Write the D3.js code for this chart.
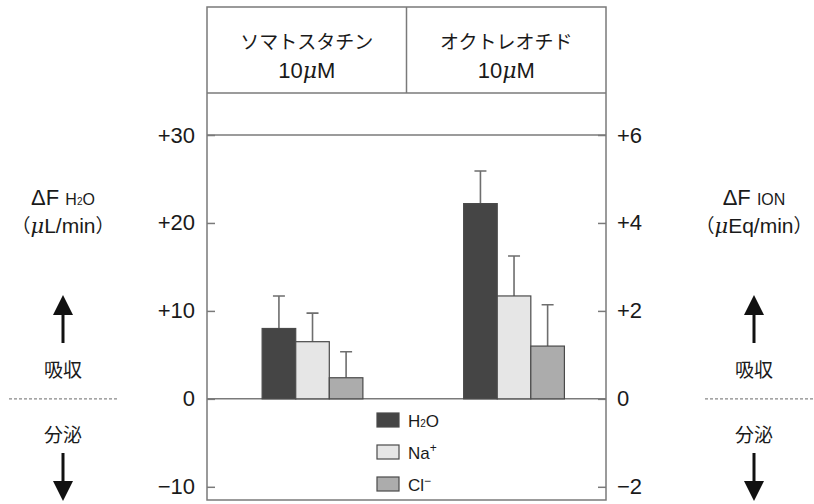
<!DOCTYPE html>
<html>
<head>
<meta charset="utf-8">
<script src="https://cdn.jsdelivr.net/npm/d3@7"></script>
<style>
  body { margin: 0; background: #fff; }
  svg text { font-family: "Liberation Sans", Arial, sans-serif; fill: #1a1a1a; }
  .jp { font-family: "Noto Sans CJK JP", sans-serif; }
</style>
</head>
<body>
<svg id="chart" width="814" height="504"></svg>
<script>
// data
const groups = ["ソマトスタチン", "オクトレオチド"];
const doses = ["10", "10"];
const series = ["H2O", "Na+", "Cl-"];
const h2oMean = [8.0, 22.2];      // µL/min
const h2oErr = [3.7, 3.7];
const naMean = [1.30, 2.34];      // µEq/min
const naErr = [0.65, 0.91];
const clMean = [0.48, 1.20];
const clErr = [0.59, 0.94];
const leftTicks = [-10, 0, 10, 20, 30];
const rightTicks = [-2, 0, 2, 4, 6];
const colors = ["#454545", "#e6e6e6", "#acacac"];

const svg = d3.select("#chart");
const lineCol = "#7a7a7a";

const plotL = 207, plotR = 606, plotT = 135, headTop = 7, headBottom = 93, plotB = 500;

const yL = d3.scaleLinear().domain([-11.5, 30]).range([plotB, plotT]);
const yR = d3.scaleLinear().domain([-2.3, 6]).range([plotB, plotT]);

const x0 = d3.scaleBand().domain(groups).range([plotL, plotR])
  .paddingInner(0.5).paddingOuter(0.24).align(0.57);
const x1 = d3.scaleBand().domain(series).range([0, x0.bandwidth()]);

// rows: one per bar
const rows = [];
groups.forEach((g, i) => {
  rows.push({ g, s: "H2O", y: yL(h2oMean[i]), e: yL(h2oMean[i] + h2oErr[i]) });
  rows.push({ g, s: "Na+", y: yR(naMean[i]), e: yR(naMean[i] + naErr[i]) });
  rows.push({ g, s: "Cl-", y: yR(clMean[i]), e: yR(clMean[i] + clErr[i]) });
});

// frame
svg.append("rect")
  .attr("x", plotL).attr("y", headTop)
  .attr("width", plotR - plotL).attr("height", plotB - headTop)
  .attr("fill", "none").attr("stroke", lineCol).attr("stroke-width", 1.5);
svg.append("line").attr("x1", plotL).attr("x2", plotR).attr("y1", headBottom).attr("y2", headBottom)
  .attr("stroke", lineCol).attr("stroke-width", 1.5);
svg.append("line").attr("x1", plotL).attr("x2", plotR).attr("y1", plotT).attr("y2", plotT)
  .attr("stroke", lineCol).attr("stroke-width", 1.5);
svg.append("line").attr("x1", (plotL + plotR) / 2).attr("x2", (plotL + plotR) / 2)
  .attr("y1", headTop).attr("y2", headBottom)
  .attr("stroke", lineCol).attr("stroke-width", 1.5);
svg.append("line").attr("x1", plotL).attr("x2", plotR).attr("y1", yL(0)).attr("y2", yL(0))
  .attr("stroke", lineCol).attr("stroke-width", 1.5);

// header labels
const cellW = (plotR - plotL) / 2;
groups.forEach((g, i) => {
  const cx = plotL + cellW * (i + 0.5);
  svg.append("text").attr("class", "jp")
    .attr("x", cx).attr("y", 49).attr("text-anchor", "middle")
    .attr("font-size", 19).text(g);
  const t = svg.append("text").attr("x", cx).attr("y", 78)
    .attr("text-anchor", "middle").attr("font-size", 22);
  t.append("tspan").text(doses[i]);
  t.append("tspan").attr("font-style", "italic").attr("font-family", "DejaVu Serif").text("μ");
  t.append("tspan").text("M");
});

// axes
const fmt = v => v > 0 ? "+" + v : (v < 0 ? "\u2212" + Math.abs(v) : "0");
const axL = svg.append("g").attr("transform", `translate(${plotL},0)`)
  .call(d3.axisLeft(yL).tickValues(leftTicks).tickFormat(fmt).tickSizeInner(-8).tickSizeOuter(0).tickPadding(12));
const axR = svg.append("g").attr("transform", `translate(${plotR},0)`)
  .call(d3.axisRight(yR).tickValues(rightTicks).tickFormat(fmt).tickSizeInner(-8).tickSizeOuter(0).tickPadding(11));
[axL, axR].forEach(a => {
  a.select(".domain").remove();
  a.selectAll(".tick line").attr("stroke", lineCol).attr("stroke-width", 1.5);
  a.selectAll(".tick text").attr("font-size", 22).attr("fill", "#1a1a1a")
    .attr("font-family", "Liberation Sans, Arial, sans-serif");
});

// error bars
const cw = 6;
svg.selectAll(".err").data(rows).enter().append("path")
  .attr("class", "err")
  .attr("d", d => {
    const cx = x0(d.g) + x1(d.s) + x1.bandwidth() / 2;
    return `M${cx},${d.y}V${d.e}M${cx - cw},${d.e}H${cx + cw}`;
  })
  .attr("fill", "none").attr("stroke", "#6e6e6e").attr("stroke-width", 1.6);

// bars
svg.selectAll(".bar").data(rows).enter().append("rect")
  .attr("class", "bar")
  .attr("x", d => x0(d.g) + x1(d.s))
  .attr("y", d => d.y)
  .attr("width", x1.bandwidth())
  .attr("height", d => yL(0) - d.y)
  .attr("fill", d => colors[series.indexOf(d.s)])
  .attr("stroke", "#4a4a4a").attr("stroke-width", 1.2);

// legend
const lg = svg.append("g").attr("transform", "translate(377,413)");
series.forEach((s, i) => {
  const g = lg.append("g").attr("transform", `translate(0,${i * 32})`);
  g.append("rect").attr("width", 22).attr("height", 14)
    .attr("fill", colors[i]).attr("stroke", "#4a4a4a").attr("stroke-width", 1.2);
  const t = g.append("text").attr("x", 31).attr("y", 14).attr("font-size", 17);
  if (s === "H2O") {
    t.append("tspan").text("H");
    t.append("tspan").attr("font-size", 10).text("2");
    t.append("tspan").text("O");
  } else if (s === "Na+") {
    t.append("tspan").text("Na");
    t.append("tspan").attr("font-size", 12).attr("dy", -7).text("+");
  } else {
    t.append("tspan").text("Cl");
    t.append("tspan").attr("font-size", 12).attr("dy", -6).text("\u2212");
  }
});

// side labels
function sideLabel(cx, sub, unit, dashX1, dashX2) {
  const t1 = svg.append("text").attr("x", cx).attr("y", 205).attr("text-anchor", "middle").attr("font-size", 22);
  t1.append("tspan").text("ΔF ");
  if (sub === "H2O") {
    t1.append("tspan").attr("font-size", 16).text("H");
    t1.append("tspan").attr("font-size", 10).text("2");
    t1.append("tspan").attr("font-size", 16).text("O");
  } else {
    t1.append("tspan").attr("font-size", 16).text(sub);
  }
  const t2 = svg.append("text").attr("x", cx).attr("y", 233).attr("text-anchor", "middle").attr("font-size", 21);
  t2.append("tspan").attr("class", "jp").attr("font-size", 19).text("（");
  t2.append("tspan").attr("font-style", "italic").attr("font-family", "DejaVu Serif").text("μ");
  t2.append("tspan").text(unit);
  t2.append("tspan").attr("class", "jp").attr("font-size", 19).text("）");

  // up arrow
  svg.append("line").attr("x1", cx).attr("x2", cx).attr("y1", 312).attr("y2", 343)
    .attr("stroke", "#111").attr("stroke-width", 3);
  svg.append("path").attr("d", `M${cx},295L${cx - 10},315L${cx + 10},315Z`).attr("fill", "#111");
  svg.append("text").attr("class", "jp").attr("x", cx).attr("y", 377)
    .attr("text-anchor", "middle").attr("font-size", 19).text("吸収");
  svg.append("line").attr("x1", dashX1).attr("x2", dashX2).attr("y1", yL(0)).attr("y2", yL(0))
    .attr("stroke", "#888").attr("stroke-width", 1.2).attr("stroke-dasharray", "3,2");
  svg.append("text").attr("class", "jp").attr("x", cx).attr("y", 442)
    .attr("text-anchor", "middle").attr("font-size", 19).text("分泌");
  // down arrow
  svg.append("line").attr("x1", cx).attr("x2", cx).attr("y1", 453).attr("y2", 483)
    .attr("stroke", "#111").attr("stroke-width", 3);
  svg.append("path").attr("d", `M${cx},501L${cx - 10},481L${cx + 10},481Z`).attr("fill", "#111");
}
sideLabel(63, "H2O", "L/min", 9, 117);
sideLabel(754, "ION", "Eq/min", 705, 814);
</script>
</body>
</html>
